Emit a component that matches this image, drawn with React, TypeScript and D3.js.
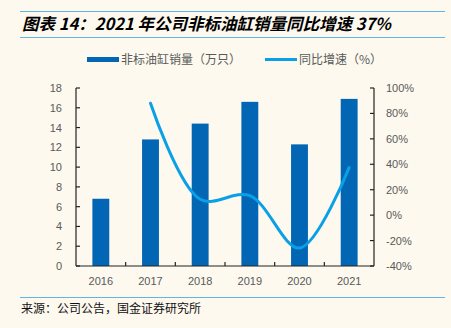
import React from "react";
import * as d3 from "d3";

const years = ["2016", "2017", "2018", "2019", "2020", "2021"];
const volume = [6.8, 12.8, 14.4, 16.6, 12.3, 16.9];
const growth: (number | null)[] = [null, 88, 12.5, 15.3, -25.9, 37.4];
const leftTicks = [0, 2, 4, 6, 8, 10, 12, 14, 16, 18];
const rightTicks = [-40, -20, 0, 20, 40, 60, 80, 100];

const W = 451, H = 328;
const m = { left: 76, right: 374, top: 88, bottom: 266 };
const barColor = "#0366b4";
const lineColor = "#0aa0e8";
const axisColor = "#222";
const textColor = "#595959";
const ruleColor = "#5fb6e2";
const font = "'Liberation Sans', Arial, sans-serif";
const cjk = "'Noto Sans CJK SC', sans-serif";

export default function App() {
  const x = d3.scaleBand().domain(years).range([m.left, m.right]).paddingInner(0.66).paddingOuter(0.33);
  const step = x.step();
  const yL = d3.scaleLinear().domain([0, 18]).range([m.bottom, m.top]);
  const yR = d3.scaleLinear().domain([-40, 100]).range([m.bottom, m.top]);
  const pts = years
    .map((yr, i) => ({ yr, v: growth[i] }))
    .filter((d) => d.v !== null) as { yr: string; v: number }[];
  const line = d3
    .line<{ yr: string; v: number }>()
    .x((d) => (x(d.yr) as number) + x.bandwidth() / 2)
    .y((d) => yR(d.v))
    .curve(d3.curveCatmullRom.alpha(0.5));

  return (
    <svg width={W} height={H} style={{ position: "absolute", left: 0, top: 0, background: "#fdf9ef" }}>
      <rect x={0} y={0} width={W} height={H} fill="#fdf9ef" />
      {/* title */}
      <line x1={20} x2={445} y1={11.5} y2={11.5} stroke={ruleColor} strokeWidth={1} />
      <text x={22} y={30} fontFamily={cjk} fontSize={16.5} fontWeight="bold" fontStyle="italic" fill="#000">
        图表 14：2021 年公司非标油缸销量同比增速 37%
      </text>
      <line x1={20} x2={445} y1={37.5} y2={37.5} stroke={ruleColor} strokeWidth={1} />
      {/* legend */}
      <rect x={87} y={57} width={32} height={5} fill={barColor} />
      <text x={121} y={64} fontFamily={cjk} fontSize={12} fill={textColor}>非标油缸销量（万只）</text>
      <line x1={265} x2={297} y1={59.5} y2={59.5} stroke={lineColor} strokeWidth={3} />
      <text x={299} y={64} fontFamily={cjk} fontSize={12} fill={textColor}>同比增速（%）</text>
      {/* bars */}
      {years.map((yr, i) => (
        <rect key={yr} x={x(yr)} y={yL(volume[i])} width={x.bandwidth()} height={m.bottom - yL(volume[i])} fill={barColor} />
      ))}
      {/* line */}
      <path d={line(pts) || ""} fill="none" stroke={lineColor} strokeWidth={3} strokeLinecap="round" />
      {/* axes */}
      <line x1={m.left} x2={m.left} y1={m.top} y2={m.bottom} stroke={axisColor} strokeWidth={1.2} />
      <line x1={m.right} x2={m.right} y1={m.top} y2={m.bottom} stroke={axisColor} strokeWidth={1.2} />
      <line x1={m.left} x2={m.right} y1={m.bottom} y2={m.bottom} stroke={axisColor} strokeWidth={1.2} />
      {leftTicks.map((t) => (
        <g key={"l" + t}>
          <line x1={m.left} x2={m.left + 4} y1={yL(t)} y2={yL(t)} stroke={axisColor} strokeWidth={1.2} />
          <text x={62} y={yL(t) + 4} textAnchor="end" fontFamily={font} fontSize={11} fill={textColor}>{t}</text>
        </g>
      ))}
      {rightTicks.map((t) => (
        <g key={"r" + t}>
          <line x1={m.right - 4} x2={m.right} y1={yR(t)} y2={yR(t)} stroke={axisColor} strokeWidth={1.2} />
          <text x={386} y={yR(t) + 4} textAnchor="start" fontFamily={font} fontSize={11} fill={textColor}>{t}%</text>
        </g>
      ))}
      {years.map((yr, i) => (
        <g key={"x" + yr}>
          {i > 0 && (
            <line x1={m.left + step * i} x2={m.left + step * i} y1={m.bottom} y2={m.bottom - 4} stroke={axisColor} strokeWidth={1.2} />
          )}
          <text x={(x(yr) as number) + x.bandwidth() / 2} y={285} textAnchor="middle" fontFamily={font} fontSize={11} fill={textColor}>{yr}</text>
        </g>
      ))}
      {/* source */}
      <line x1={20} x2={445} y1={297.5} y2={297.5} stroke={ruleColor} strokeWidth={1} />
      <text x={21} y={313} fontFamily={cjk} fontSize={12} fill="#111">来源：公司公告，国金证券研究所</text>
    </svg>
  );
}
